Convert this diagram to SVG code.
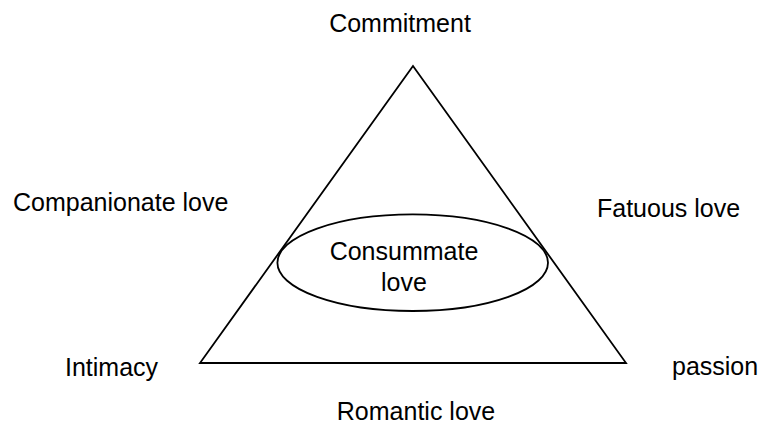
<svg xmlns="http://www.w3.org/2000/svg" width="762" height="425" viewBox="0 0 762 425">
<style>
text{font-family:"Liberation Sans",Arial,sans-serif;font-size:25px;fill:#000}
.sh{fill:none;stroke:#000;stroke-width:1.8}
</style>
<rect width="762" height="425" fill="#fff"/>
<g id="connectors">
<polygon id="triangle" class="sh" points="413,66 200,363 626,363"/>
</g>
<g id="consummate">
<ellipse class="sh" cx="412.7" cy="262.7" rx="135.3" ry="48.3"/>
<text x="404" y="259.5" text-anchor="middle">Consummate</text>
<text x="404" y="291" text-anchor="middle">love</text>
</g>
<g id="commitment"><text x="400" y="32" text-anchor="middle">Commitment</text></g>
<g id="companionate"><text x="13" y="211">Companionate love</text></g>
<g id="fatuous"><text x="597" y="217">Fatuous love</text></g>
<g id="intimacy"><text x="65" y="376">Intimacy</text></g>
<g id="passion"><text x="672" y="375">passion</text></g>
<g id="romantic"><text x="416" y="420" text-anchor="middle">Romantic love</text></g>
</svg>
